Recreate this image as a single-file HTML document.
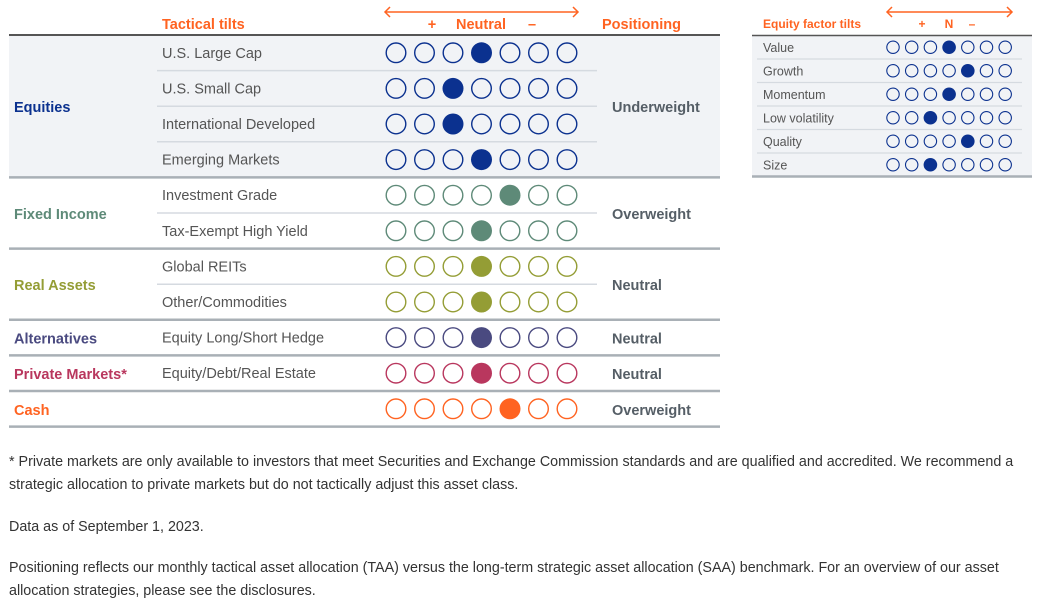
<!DOCTYPE html>
<html><head><meta charset="utf-8"><style>
body{margin:0;width:1042px;height:608px;background:#fff;font-family:"Liberation Sans",sans-serif;position:relative;overflow:hidden}
.t{position:absolute;white-space:nowrap}
.note{position:absolute;left:9px;font-size:14.3px;color:#333;line-height:23px;width:1025px}
</style></head><body>
<svg id="chart" width="1042" height="440" style="position:absolute;left:0;top:0" font-family="Liberation Sans, sans-serif"></svg>
<div class="note" style="top:451px">* Private markets are only available to investors that meet Securities and Exchange Commission standards and are qualified and accredited. We recommend a strategic allocation to private markets but do not tactically adjust this asset class.</div>
<div class="note" style="top:516px">Data as of September 1, 2023.</div>
<div class="note" style="top:557px;width:1030px">Positioning reflects our monthly tactical asset allocation (TAA) versus the long-term strategic asset allocation (SAA) benchmark. For an overview of our asset allocation strategies, please see the disclosures.</div>
<script>
const rowLabels=["U.S. Large Cap","U.S. Small Cap","International Developed","Emerging Markets","Investment Grade","Tax-Exempt High Yield","Global REITs","Other/Commodities","Equity Long/Short Hedge","Equity/Debt/Real Estate",""];
const rowTilts=[3,2,2,3,4,3,3,3,3,3,4];
const rowGroup=[0,0,0,0,1,1,2,2,3,4,5];
const groupNames=["Equities","Fixed Income","Real Assets","Alternatives","Private Markets*","Cash"];
const groupPositioning=["Underweight","Overweight","Neutral","Neutral","Neutral","Overweight"];
const groupColors=["#0b318f","#5e8a78","#949d35","#4a4a80","#b9375e","#ff6321"];
const factorLabels=["Value","Growth","Momentum","Low volatility","Quality","Size"];
const factorTilts=[3,4,3,2,4,2];

const svg=document.getElementById('chart');
const NS="http://www.w3.org/2000/svg";
function mk(tag,attrs,parent){const e=document.createElementNS(NS,tag);for(const k in attrs)e.setAttribute(k,attrs[k]);(parent||svg).appendChild(e);return e;}
function txt(x,y,s,size,fill,weight,anchor){const e=mk('text',{x:x,y:y,'font-size':size,fill:fill,'font-weight':weight||'normal','text-anchor':anchor||'start'});e.textContent=s;return e;}
const rowH=35.6,top0=35;
const rowY=i=>top0+i*rowH;
const dotX=k=>396+k*28.5;
const fRowH=23.5,fTop=35.5;
const fDotX=k=>893+k*18.7;

let e;
e=txt(162,29,"Tactical tilts",14.5,"#ff6321","bold");


e=txt(602,29,"Positioning",14.5,"#ff6321","bold");


e=txt(481,29,"Neutral",14.5,"#ff6321","bold","middle");


txt(432,29,"+",14.5,"#ff6321","bold","middle");
txt(532,29,"–",14.5,"#ff6321","bold","middle");
function arrow(x1,x2,y,name){const g=mk('g',{stroke:'#ff6321','stroke-width':1.5,fill:'none'});


mk('line',{x1:x1,y1:y,x2:x2,y2:y},g);mk('polyline',{points:`${x1+5},${y-5} ${x1},${y} ${x1+5},${y+5}`},g);mk('polyline',{points:`${x2-5},${y-5} ${x2},${y} ${x2-5},${y+5}`},g);}
arrow(385,578,12,'tilt-scale-arrow');

e=mk('rect',{x:9,y:top0,width:711,height:rowH*4,fill:'#f1f3f6'});


mk('line',{x1:9,y1:top0,x2:720,y2:top0,stroke:'#555','stroke-width':2});

for(let i=0;i<rowLabels.length;i++){
  const y=rowY(i),cy=y+rowH/2,g=rowGroup[i],c=groupColors[g];
  if(rowLabels[i]){e=txt(162,cy+5,rowLabels[i],14.5,"#555");
  
  }
  for(let k=0;k<7;k++){
    const f=k===rowTilts[i];
    e=mk('circle',{cx:dotX(k),cy:cy,r:f?10.5:9.8,fill:f?c:'none',stroke:c,'stroke-width':f?0:1.4});
    
    
  }
  const last=i===rowLabels.length-1||rowGroup[i+1]!==g;
  if(last){mk('line',{x1:9,y1:y+rowH,x2:720,y2:y+rowH,stroke:'#a9b0b6','stroke-width':2.5});}
  else{mk('line',{x1:157,y1:y+rowH,x2:597,y2:y+rowH,stroke:'#d5dae0','stroke-width':1.5});}
}
let start=0;
for(let g=0;g<groupNames.length;g++){
  let n=rowGroup.filter(v=>v===g).length;
  const cy=rowY(start)+n*rowH/2;
  e=txt(14,cy+6,groupNames[g],14.5,groupColors[g],"bold");
  
  
  e=txt(612,cy+6,groupPositioning[g],14.5,"#555e66","bold");
  
  
  start+=n;
}

e=txt(763,28,"Equity factor tilts",12,"#ff6321","bold");


txt(922,28,"+",12,"#ff6321","bold","middle");
txt(949,28,"N",12,"#ff6321","bold","middle");
txt(972,28,"–",12,"#ff6321","bold","middle");
arrow(887,1012,12,'factor-scale-arrow');
e=mk('rect',{x:752,y:fTop,width:280,height:fRowH*factorLabels.length,fill:'#f1f3f6'});


mk('line',{x1:752,y1:fTop,x2:1032,y2:fTop,stroke:'#555','stroke-width':1.5});
for(let i=0;i<factorLabels.length;i++){
  const y=fTop+i*fRowH,cy=y+fRowH/2;
  e=txt(763,cy+4.5,factorLabels[i],12.5,"#555");
  
  
  for(let k=0;k<7;k++){
    const f=k===factorTilts[i];
    e=mk('circle',{cx:fDotX(k),cy:cy,r:f?6.8:6.2,fill:f?'#0b318f':'none',stroke:'#0b318f','stroke-width':f?0:1.1});
    
    
  }
  const last=i===factorLabels.length-1;
  mk('line',{x1:last?752:757,y1:y+fRowH,x2:last?1032:1022,y2:y+fRowH,stroke:last?'#a9b0b6':'#d5dae0','stroke-width':last?2.5:1.2});
}
</script>
</body></html>
